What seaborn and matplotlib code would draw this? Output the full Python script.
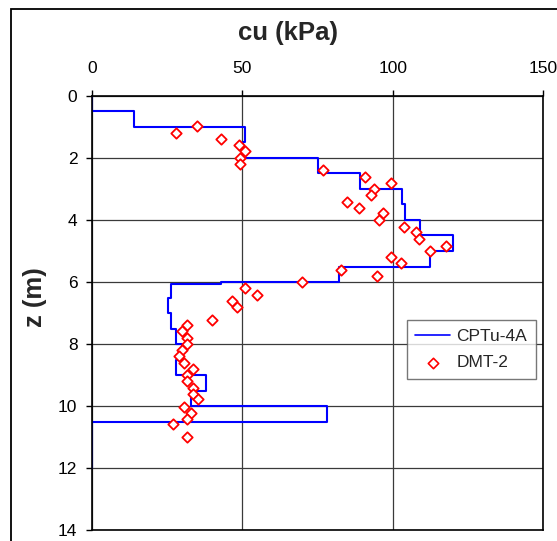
import numpy as np
import pandas as pd
import matplotlib
matplotlib.use("Agg")
import matplotlib.pyplot as plt
import seaborn as sns
from matplotlib.patches import Rectangle

# CPTu-4A layered profile (depth top, depth bottom, cu)
cpt_top = [0.0, 0.5, 1.0, 1.5, 2.0, 2.5, 3.0, 3.5, 4.0, 4.5, 5.0, 5.5, 6.0, 6.07, 6.5, 7.0, 7.5, 8.0, 8.5, 9.0, 9.5, 10.0, 10.5]
cpt_bot = [0.5, 1.0, 1.5, 2.0, 2.5, 3.0, 3.5, 4.0, 4.5, 5.0, 5.5, 6.0, 6.07, 6.5, 7.0, 7.5, 8.0, 8.5, 9.0, 9.5, 10.0, 10.5, 12.0]
cpt_cu = [0, 14, 51, 50.2, 75, 89, 103, 104, 109, 120, 112.5, 82, 43, 26.2, 25.3, 26.2, 27.9, 30, 27.9, 38, 33, 78, 0]

# DMT-2 points
dmt_z = [0.97, 1.2, 1.4, 1.58, 1.76, 2.01, 2.19, 2.39, 2.62, 2.8, 3.0, 3.19, 3.41, 3.61, 3.78, 3.99,
         4.23, 4.39, 4.6, 4.83, 5.0, 5.2, 5.4, 5.62, 5.8, 6.0, 6.18, 6.41, 6.6, 6.8, 7.23, 7.4, 7.59,
         7.82, 8.01, 8.19, 8.39, 8.61, 8.81, 9.0, 9.18, 9.41, 9.6, 9.79, 10.02, 10.21, 10.41, 10.58, 11.01]
dmt_cu = [35, 27.9, 42.8, 49, 51, 49.1, 49.1, 76.8, 90.9, 99.5, 93.9, 92.8, 84.7, 88.9, 96.7, 95.6,
          103.9, 107.6, 108.6, 117.7, 112.5, 99.5, 102.9, 82.7, 94.7, 69.8, 51, 54.8, 46.5, 48.2, 40, 31.7, 29.9,
          31.7, 31.7, 30, 28.9, 30.7, 33.7, 31.7, 31.7, 33.7, 33.7, 35.2, 30.7, 32.8, 31.7, 26.9, 31.7]

x_ticks = [0, 50, 100, 150]
y_ticks = [0, 2, 4, 6, 8, 10, 12, 14]

# build step vertices from layers
sx, sz = [], []
for t, b, c in zip(cpt_top, cpt_bot, cpt_cu):
    sx += [c, c]
    sz += [t, b]
cpt_df = pd.DataFrame({"cu": sx, "z": sz})
dmt_df = pd.DataFrame({"cu": dmt_cu, "z": dmt_z})

sns.set_style("white")
plt.rcParams["font.family"] = ["Liberation Sans", "DejaVu Sans"]

fig = plt.figure(figsize=(5.57, 5.41), dpi=100)
W, H = 557, 541
L, R, T, B = 92, 543, 96, 530
ax = fig.add_axes([L / W, 1 - B / H, (R - L) / W, (B - T) / H])

sns.lineplot(data=cpt_df, x="cu", y="z", sort=False, estimator=None, color="#0000FF",
             linewidth=1.5, ax=ax, label="CPTu-4A")
sns.scatterplot(data=dmt_df, x="cu", y="z", marker="D", s=28, facecolor="white",
                edgecolor="#FF0000", linewidth=1.3, ax=ax, label="DMT-2", zorder=3)

ax.set_xlim(0, 150)
ax.set_ylim(14, 0)
ax.set_xticks(x_ticks)
ax.set_yticks(y_ticks)
ax.xaxis.tick_top()
ax.tick_params(axis="both", which="both", direction="out", length=4.5, width=1,
               colors="black", labelsize=12.5, top=True, left=True, bottom=False, right=False)
ax.tick_params(axis="x", pad=10)
ax.tick_params(axis="y", pad=6)
ax.grid(True, color="#3a3a3a", linewidth=0.9)
ax.set_axisbelow(True)
for s in ax.spines.values():
    s.set_visible(True)
    s.set_color("black")
    s.set_linewidth(1.2)
ax.set_xlabel("")
ax.set_ylabel("")

leg = ax.legend(loc="upper left", bbox_to_anchor=(0.698, 0.484), borderaxespad=0,
                fontsize=12.5, frameon=True, fancybox=False, edgecolor="#555555",
                handlelength=2.0, handletextpad=0.35, borderpad=0.5, labelspacing=0.65)
leg.get_frame().set_linewidth(1.0)
for h in leg.legend_handles:
    try:
        h.set_linewidth(1.2)
    except Exception:
        pass

fig.text(288 / W, 1 - 33 / H, "cu (kPa)", ha="center", va="center", fontsize=18.5, fontweight="bold")
fig.text(35 / W, 1 - 297 / H, "z (m)", ha="center", va="center", fontsize=18.5,
         fontweight="bold", rotation=90)

fig.patches.append(Rectangle((11 / W, -0.1), 1.2, 1 - 9 / H + 0.1, transform=fig.transFigure,
                             fill=False, edgecolor="black", linewidth=1.3))

fig.savefig("out.png", dpi=100)
